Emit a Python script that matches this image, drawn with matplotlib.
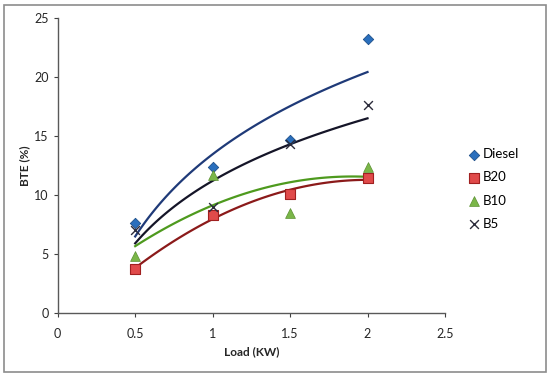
import numpy as np
import matplotlib
matplotlib.use("Agg")
import matplotlib.pyplot as plt
from matplotlib.patches import Rectangle

# Data
load = [0.5, 1.0, 1.5, 2.0]
diesel = [7.6, 12.4, 14.7, 23.2]
b20 = [3.7, 8.3, 10.1, 11.4]
b10 = [4.8, 11.7, 8.5, 12.4]
b5 = [7.0, 9.0, 14.3, 17.6]

x_ticks = [0, 0.5, 1, 1.5, 2, 2.5]
x_tick_labels = ["0", "0.5", "1", "1.5", "2", "2.5"]
y_ticks = [0, 5, 10, 15, 20, 25]

plt.rcParams['font.family'] = ['Lato', 'DejaVu Sans']

fig = plt.figure(figsize=(5.5, 3.77), dpi=100)
ax = fig.add_axes([0.105, 0.170, 0.704, 0.782])

x = np.array(load)
xs = np.linspace(0.5, 2.0, 100)

# Excel-style trendlines: log for Diesel/B5, poly(2) for B20/B10
def log_fit(y):
    a, b = np.polyfit(np.log(x), np.array(y), 1)
    return a * np.log(xs) + b

def poly_fit(y):
    c = np.polyfit(x, np.array(y), 2)
    return np.polyval(c, xs)

ax.plot(xs, log_fit(diesel), color='#1f3a78', lw=1.6, zorder=2)
ax.plot(xs, log_fit(b5), color='#151528', lw=1.6, zorder=2)
ax.plot(xs, poly_fit(b10), color='#4e9a1e', lw=1.6, zorder=2)
ax.plot(xs, poly_fit(b20), color='#8b1a1a', lw=1.6, zorder=2)

ax.scatter(load, diesel, marker='D', s=28, color='#2a6fbd', edgecolors='#1d4f8a',
           linewidths=0.6, label='Diesel', zorder=3)
ax.scatter(load, b20, marker='s', s=60, color='#e04a4a', edgecolors='#a02020',
           linewidths=0.8, label='B20', zorder=3)
ax.scatter(load, b10, marker='^', s=50, color='#7ab648', edgecolors='#5a9030',
           linewidths=0.5, label='B10', zorder=3)
ax.scatter(load, b5, marker='x', s=40, color='#2b2b3b', linewidths=1.0,
           label='B5', zorder=4)

ax.set_xlim(0, 2.5)
ax.set_ylim(0, 25)
ax.set_xticks(x_ticks)
ax.set_xticklabels(x_tick_labels)
ax.set_yticks(y_ticks)
ax.tick_params(direction='out', length=3, width=0.8, colors='#404040',
               labelsize=9, labelcolor='#262626')
ax.tick_params(axis='x', pad=8)

for side in ['top', 'right']:
    ax.spines[side].set_visible(False)
for side in ['left', 'bottom']:
    ax.spines[side].set_color('#595959')
    ax.spines[side].set_linewidth(1.0)

ax.set_xlabel('Load (KW)', fontsize=8.5, fontweight='bold', color='#262626', labelpad=4)
ax.set_ylabel('BTE (%)', fontsize=8.5, fontweight='bold', color='#262626', labelpad=3)

leg = ax.legend(loc='center left', bbox_to_anchor=(1.025, 0.42), frameon=False,
                fontsize=9.5, handletextpad=0.0, labelspacing=0.85, handlelength=1.2)

# outer chart border
fig.patches.append(Rectangle((0.008, 0.012), 0.984, 0.976, transform=fig.transFigure,
                             fill=False, edgecolor='#8c8c8c', linewidth=1.2))

plt.savefig("out.png", dpi=100)
